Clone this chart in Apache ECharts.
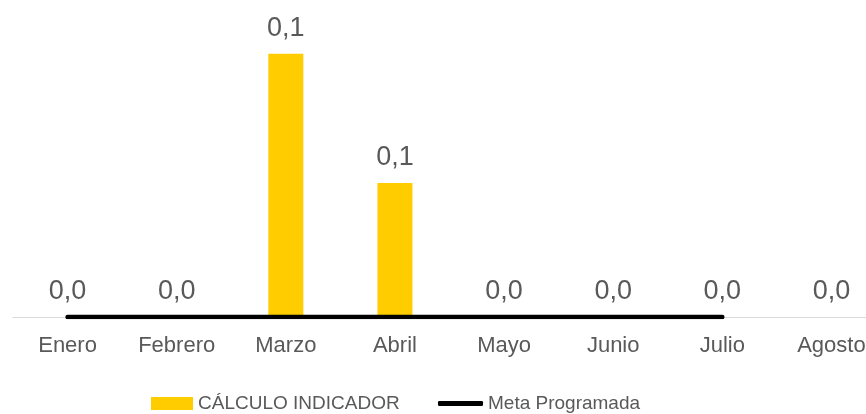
<!DOCTYPE html>
<html><head><meta charset="utf-8">
<script src="https://cdn.jsdelivr.net/npm/echarts@6/dist/echarts.min.js"></script>
<style>html,body{margin:0;padding:0;background:#fff;overflow:hidden}#c{width:900px;height:414px}</style>
</head><body><div id="c"></div>
<script>
const categories = ['Enero','Febrero','Marzo','Abril','Mayo','Junio','Julio','Agosto'];
const calculoIndicador = [0, 0, 0.133, 0.0677, 0, 0, 0, 0];
const metaProgramada = [0, 0, 0, 0, 0, 0, 0, null];
const fontFam = '"Liberation Sans", Arial, sans-serif';
const txt = '#595959';
const chart = echarts.init(document.getElementById('c'), null, {renderer:'canvas'});
chart.setOption({
  animation: false,
  textStyle: {fontFamily: fontFam},
  grid: {left: 13, width: 873, top: 20, bottom: 97, containLabel: false},
  legend: [
    {
      top: 394, left: 151, padding: 0, itemWidth: 42, itemHeight: 13,
      textStyle: {fontFamily: fontFam, fontSize: 19, color: txt},
      data: [{name:'CÁLCULO INDICADOR', icon:'rect'}]
    },
    {
      top: 394, left: 438, padding: 0, itemWidth: 45, itemHeight: 5,
      textStyle: {fontFamily: fontFam, fontSize: 19, color: txt},
      data: [{name:'Meta Programada', icon:'roundRect', itemStyle:{color:'#000'}}]
    }
  ],
  xAxis: {
    type: 'category', data: categories,
    axisLine: {lineStyle: {color: '#d9d9d9', width: 1}},
    axisTick: {show: false},
    axisLabel: {fontFamily: fontFam, fontSize: 22, color: txt, margin: 18, interval: 0}
  },
  yAxis: {type: 'value', min: 0, max: 0.15, show: false, splitLine: {show: false}},
  series: [
    {
      name: 'CÁLCULO INDICADOR', type: 'bar', data: calculoIndicador,
      barWidth: 35, itemStyle: {color: '#FFCC00'},
      label: {show: true, position: 'top', distance: 12, fontFamily: fontFam, fontSize: 27, color: txt,
        formatter: p => p.value.toFixed(1).replace('.', ',')}
    },
    {
      name: 'Meta Programada', type: 'line', data: metaProgramada,
      showSymbol: false, symbol: 'none', z: 5,
      lineStyle: {color: '#000', width: 4.5, cap: 'round'}, itemStyle: {color: '#000'}
    }
  ]
});
</script></body></html>
